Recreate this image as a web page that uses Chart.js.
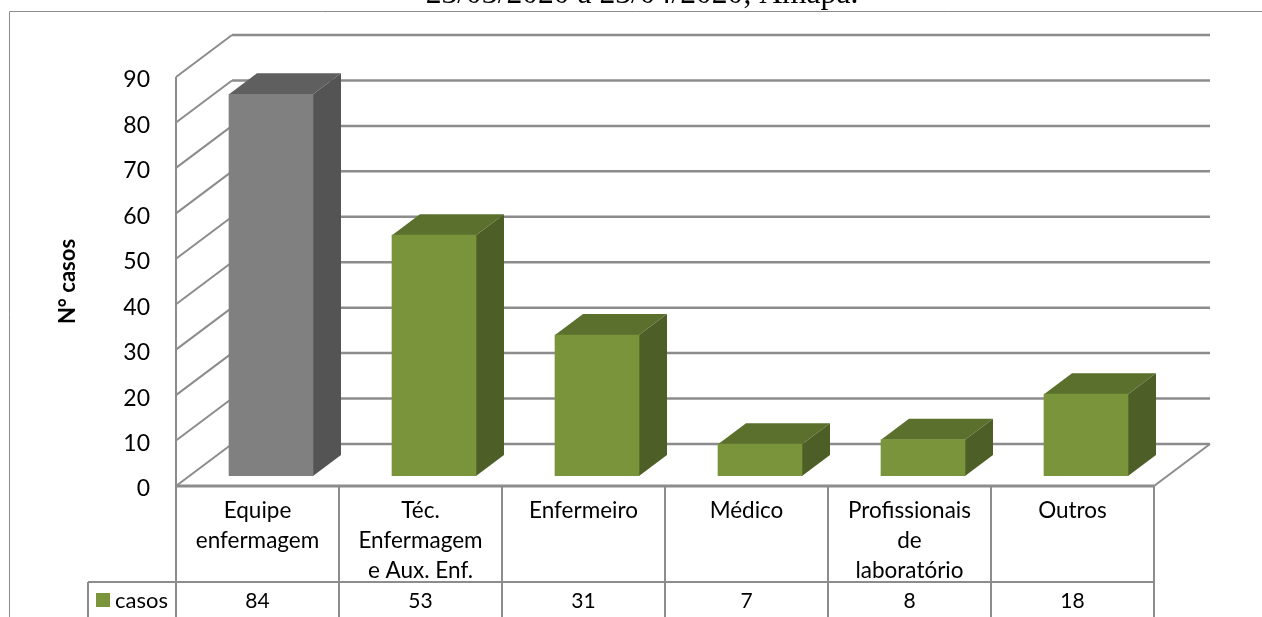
<!DOCTYPE html>
<html>
<head>
<meta charset="utf-8">
<style>html,body{margin:0;padding:0;background:#fff;overflow:hidden}#w{position:relative;width:1262px;height:617px}</style>
<script src="https://cdn.jsdelivr.net/npm/chart.js@4"></script>
</head>
<body>
<div id="w"><canvas id="c" width="1262" height="617"></canvas></div>
<script>
const categories = [
  ['Equipe', 'enfermagem'],
  ['Téc.', 'Enfermagem', 'e Aux. Enf.'],
  ['Enfermeiro'],
  ['Médico'],
  ['Profissionais', 'de', 'laboratório'],
  ['Outros']
];
const casos = [84, 53, 31, 7, 8, 18];
const seriesName = 'casos';
const yTicks = [0, 10, 20, 30, 40, 50, 60, 70, 80, 90];
const titleText = '23/03/2020 a 23/04/2020, Amapá.';
const yTitle = 'N° casos';
const frontColors = ['#808080', '#7A943C', '#7A943C', '#7A943C', '#7A943C', '#7A943C'];
const topColors = ['#5F5F5F', '#5B702D', '#5B702D', '#5B702D', '#5B702D', '#5B702D'];
const sideColors = ['#545454', '#4D5F26', '#4D5F26', '#4D5F26', '#4D5F26', '#4D5F26'];

const GRID = '#8C8C8C';
const WALL = {dx: 56, dy: -42};
const BAR_SHIFT = {dx: 13.5, dy: -10};
const BAR_DEPTH = {dx: 28, dy: -21};
const FONT = 'Lato, Carlito, sans-serif';

function line(ctx, pts, w) {
  ctx.beginPath();
  pts.forEach((p, i) => i ? ctx.lineTo(p[0], p[1]) : ctx.moveTo(p[0], p[1]));
  ctx.lineWidth = w;
  ctx.strokeStyle = GRID;
  ctx.stroke();
}
function poly(ctx, pts, fill) {
  ctx.beginPath();
  pts.forEach((p, i) => i ? ctx.lineTo(p[0], p[1]) : ctx.moveTo(p[0], p[1]));
  ctx.closePath();
  ctx.fillStyle = fill;
  ctx.fill();
}

const box3d = {
  id: 'box3d',
  beforeDatasetsDraw(chart) {
    const {ctx, chartArea: a, scales: {y}} = chart;
    ctx.save();
    yTicks.forEach(v => {
      const py = y.getPixelForValue(v);
      line(ctx, [[a.left, py], [a.left + WALL.dx, py + WALL.dy]], 2);
      line(ctx, [[a.left + WALL.dx, py + WALL.dy], [a.right + WALL.dx, py + WALL.dy]], 2.5);
    });
    line(ctx, [[a.left, a.top], [a.left, a.bottom]], 2);
    line(ctx, [[a.right, a.bottom], [a.right + WALL.dx, a.bottom + WALL.dy]], 2);
    chart.getDatasetMeta(0).data.forEach((el, i) => {
      const l = el.x - el.width / 2 + BAR_SHIFT.dx, r = el.x + el.width / 2 + BAR_SHIFT.dx;
      const t = el.y + BAR_SHIFT.dy, b = el.base + BAR_SHIFT.dy;
      const dx = BAR_DEPTH.dx, dy = BAR_DEPTH.dy;
      poly(ctx, [[l, t], [l + dx, t + dy], [r + dx, t + dy], [r, t]], topColors[i]);
      poly(ctx, [[r, t], [r + dx, t + dy], [r + dx, b + dy], [r, b]], sideColors[i]);
    });
    ctx.restore();
    ctx.save();
    ctx.translate(BAR_SHIFT.dx, BAR_SHIFT.dy);
  },
  afterDatasetsDraw(chart) {
    chart.ctx.restore();
    const {ctx, chartArea: a, scales: {x}} = chart;
    const H = chart.height, rowTop = 582, step = (a.right - a.left) / categories.length;
    ctx.save();
    line(ctx, [[a.left, a.bottom], [a.right, a.bottom]], 3);
    for (let i = 0; i <= categories.length; i++) {
      const px = a.left + step * i;
      line(ctx, [[px, a.bottom], [px, H]], 2);
    }
    line(ctx, [[88, rowTop], [a.right, rowTop]], 2);
    line(ctx, [[88, rowTop], [88, H]], 2);
    ctx.fillStyle = '#7A943C';
    ctx.fillRect(96, 593, 14, 14);
    ctx.fillStyle = '#000';
    ctx.font = '22px ' + FONT;
    ctx.textBaseline = 'middle';
    ctx.textAlign = 'left';
    ctx.fillText(seriesName, 115, 601);
    ctx.textAlign = 'center';
    ctx.font = '21px ' + FONT;
    casos.forEach((v, i) => ctx.fillText(String(v), x.getPixelForTick(i), 601));
    ctx.strokeStyle = '#8C8C8C';
    ctx.lineWidth = 1;
    ctx.beginPath();
    ctx.moveTo(9.5, chart.height);
    ctx.lineTo(9.5, 11.5);
    ctx.lineTo(chart.width, 11.5);
    ctx.stroke();
    ctx.fillStyle = '#000';
    ctx.font = '31.6px "Liberation Serif", serif';
    ctx.textBaseline = 'alphabetic';
    ctx.fillText(titleText, 642, 3);
    ctx.restore();
  }
};

new Chart(document.getElementById('c'), {
  type: 'bar',
  data: {
    labels: categories,
    datasets: [{
      label: seriesName,
      data: casos,
      backgroundColor: frontColors,
      barThickness: 84
    }]
  },
  plugins: [box3d],
  options: {
    responsive: false,
    animation: false,
    layout: {padding: {top: 77, right: 108, left: 0, bottom: 0}},
    plugins: {legend: {display: false}, title: {display: false}, tooltip: {enabled: false}},
    scales: {
      x: {
        afterFit(s) { s.height = 131; },
        grid: {display: false},
        border: {display: false},
        ticks: {
          color: '#000', maxRotation: 0, minRotation: 0, autoSkip: false, padding: 2,
          font: {family: FONT, size: 22.5, lineHeight: 30 / 22.5}
        }
      },
      y: {
        min: 0, max: 90,
        afterFit(s) { s.width = 176; },
        afterBuildTicks(s) { s.ticks = yTicks.map(v => ({value: v})); },
        grid: {display: false, drawTicks: false},
        border: {display: false},
        title: {
          display: true, text: yTitle, color: '#000',
          font: {family: FONT, size: 22, weight: 'bold', lineHeight: 1.2},
          padding: {top: 55, bottom: 0}
        },
        ticks: {
          color: '#000', padding: 26, labelOffset: 3,
          font: {family: FONT, size: 23}
        }
      }
    }
  }
});
</script>
</body>
</html>
